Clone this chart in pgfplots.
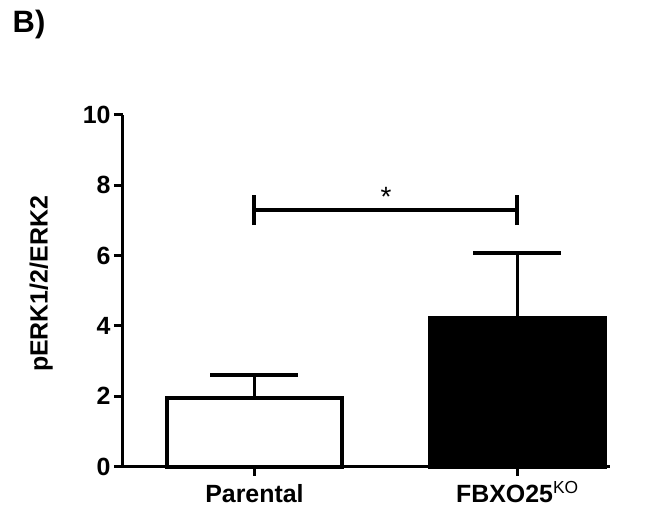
\documentclass[border=0pt]{standalone}
\usepackage{pgfplots}
\pgfplotsset{compat=1.18}
\usepackage{fontspec}
\setmainfont{Liberation Sans}
\begin{document}
\begin{tikzpicture}
\useasboundingbox (-123bp,-43.3bp) rectangle (523bp,466.7bp);
\node[font=\fontsize{31}{34}\selectfont\bfseries] at (-94bp,442bp) {B)};
\begin{axis}[
  scale only axis, width=487bp, height=352bp,
  xmin=-0.5, xmax=1.352, ymin=0, ymax=10,
  axis lines=left, axis line style={-, line width=3bp},
  ytick={0,2,...,10}, xtick={0,1},
  xticklabels={Parental, FBXO25\textsuperscript{\mdseries KO}},
  tick align=outside, major tick length=9bp,
  tick style={line width=3bp, black},
  /pgf/number format/assume math mode=true,
  ticklabel style={font=\fontsize{25}{28}\selectfont\bfseries},
  xticklabel style={anchor=base, yshift=-27bp},
  ylabel={pERK1/2/ERK2},
  ylabel style={at={(axis description cs:-0.168,0.519)}, anchor=center, rotate=0,
    font=\fontsize{25}{28}\selectfont\bfseries},
  clip=false,
]
\addplot[ybar, bar width=0.667, fill=white, draw=black, line width=4bp,
  error bars/.cd, y dir=plus, y explicit,
  error bar style={line width=3.5bp, black},
  error mark options={rotate=90, mark size=44bp, line width=3.5bp, black}]
  coordinates {(0,1.96) +- (0,0.64)};
\addplot[ybar, bar width=0.667, fill=black, draw=black, line width=4bp,
  error bars/.cd, y dir=plus, y explicit,
  error bar style={line width=3.5bp, black},
  error mark options={rotate=90, mark size=44bp, line width=3.5bp, black}]
  coordinates {(1,4.22) +- (0,1.85)};
% significance bracket
\addplot[black, line width=4bp, no markers] coordinates {(0,7.29) (1,7.29)};
\addplot[black, line width=4bp, no markers] coordinates {(0,6.86) (0,7.72)};
\addplot[black, line width=4bp, no markers] coordinates {(1,6.86) (1,7.72)};
\node[font=\fontsize{28}{30}\selectfont] at (axis cs:0.5,7.66) {*};
\end{axis}
\end{tikzpicture}
\end{document}
